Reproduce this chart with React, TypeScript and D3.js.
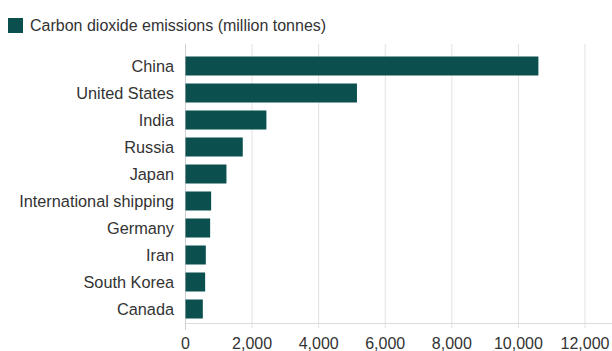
import React from "react";
import * as d3 from "d3";

const categories = ["China", "United States", "India", "Russia", "Japan", "International shipping", "Germany", "Iran", "South Korea", "Canada"];
const emissions = [10600, 5150, 2430, 1720, 1230, 770, 740, 610, 590, 520];
const xTicks = [0, 2000, 4000, 6000, 8000, 10000, 12000];
const legendLabel = "Carbon dioxide emissions (million tonnes)";

const W = 612, H = 351;
const BAR = "#0b4f4f";
const FONT = "Arial, 'Liberation Sans', Helvetica, sans-serif";

export default function App() {
  const x = d3.scaleLinear().domain([0, 12000]).range([185.5, 585]);
  const y = d3.scaleBand().domain(categories).range([52.5, 322.5]).paddingInner(0.296).paddingOuter(0.148);
  const fmt = d3.format(",");
  return (
    <svg width={W} height={H} style={{ position: "absolute", left: 0, top: 0, background: "#fff" }} fontFamily={FONT}>
      <rect x={8} y={18} width={15} height={15} fill={BAR} />
      <text x={30} y={31} fontSize={16} fill="#333">{legendLabel}</text>
      {xTicks.map((t) => (
        <line key={"g" + t} x1={x(t)} x2={x(t)} y1={44} y2={328} stroke="#e2e2e2" strokeWidth={1} />
      ))}
      <line x1={185} x2={612} y1={323.5} y2={323.5} stroke="#dcdcdc" strokeWidth={1} />
      <line x1={185.5} x2={185.5} y1={44} y2={330} stroke="#cfcfcf" strokeWidth={1} />
      {categories.map((c, i) => (
        <g key={c}>
          <rect x={x(0)} y={y(c)!} width={x(emissions[i]) - x(0)} height={y.bandwidth()} fill={BAR} />
          <text x={174} y={y(c)! + y.bandwidth() / 2} dy="0.35em" textAnchor="end" fontSize={16.3} fill="#333">{c}</text>
        </g>
      ))}
      {xTicks.map((t) => (
        <text key={"t" + t} x={x(t)} y={349} textAnchor="middle" fontSize={16} fill="#333">{fmt(t)}</text>
      ))}
    </svg>
  );
}
